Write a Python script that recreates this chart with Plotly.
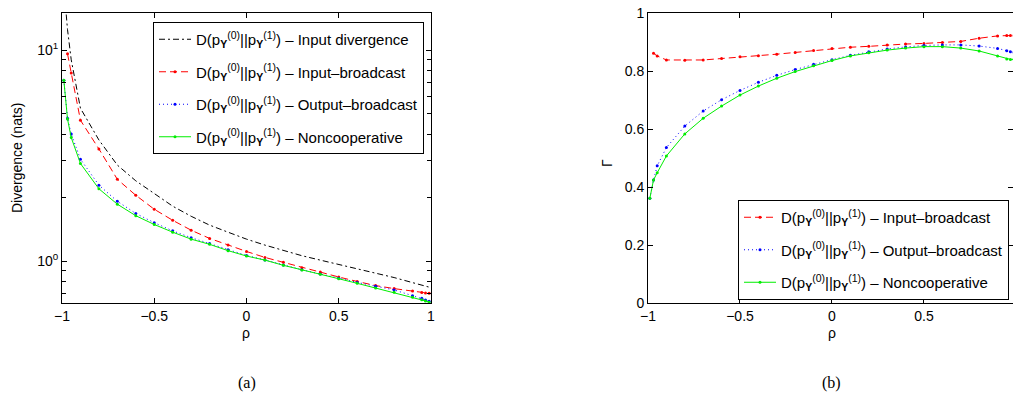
import plotly.graph_objects as go

# ---------------- data ----------------
rho = [-0.99, -0.97, -0.95, -0.9, -0.8, -0.7, -0.6, -0.5, -0.4, -0.3, -0.2, -0.1,
       0.0, 0.1, 0.2, 0.3, 0.4, 0.5, 0.6, 0.7, 0.8, 0.9, 0.95, 0.97, 0.99]

# (a) divergence (nats)
div_input = [20.0, 12.5, 9.0, 5.3, 3.75, 2.85, 2.40, 2.08, 1.82, 1.63, 1.48, 1.37,
             1.27, 1.19, 1.12, 1.06, 1.01, 0.965, 0.92, 0.875, 0.835, 0.79, 0.77, 0.76, 0.752]
div_inbc = [None, 9.6, 7.8, 4.65, 3.4, 2.44, 2.05, 1.76, 1.56, 1.40, 1.28, 1.19,
            1.11, 1.04, 0.986, 0.93, 0.887, 0.84, 0.80, 0.765, 0.74, 0.72, 0.71, 0.706, 0.703]
div_outbc = [7.2, 4.75, 4.0, 3.04, 2.29, 1.92, 1.68, 1.52, 1.39, 1.29, 1.21, 1.13,
             1.062, 1.012, 0.957, 0.909, 0.868, 0.828, 0.792, 0.76, 0.729, 0.685, 0.666, 0.653, 0.645]
div_noncoop = [7.2, 4.71, 3.85, 2.90, 2.20, 1.86, 1.64, 1.49, 1.37, 1.27, 1.20, 1.12,
               1.056, 1.01, 0.954, 0.906, 0.865, 0.824, 0.784, 0.745, 0.711, 0.673, 0.655, 0.647, 0.638]

# (b) Gamma
gam_inbc = [None, 0.861, 0.852, 0.838, 0.837, 0.838, 0.843, 0.849, 0.853, 0.858, 0.864, 0.871,
            0.878, 0.882, 0.885, 0.890, 0.893, 0.895, 0.898, 0.902, 0.913, 0.921, 0.922, 0.922, 0.922]
gam_outbc = [0.361, 0.424, 0.473, 0.536, 0.610, 0.662, 0.701, 0.733, 0.761, 0.785, 0.805, 0.823,
             0.839, 0.854, 0.866, 0.876, 0.883, 0.888, 0.890, 0.890, 0.886, 0.878, 0.870, 0.866, 0.864]
gam_noncoop = [0.361, 0.424, 0.449, 0.507, 0.583, 0.637, 0.679, 0.717, 0.748, 0.775, 0.798, 0.818,
               0.836, 0.852, 0.863, 0.872, 0.879, 0.884, 0.884, 0.879, 0.869, 0.852, 0.841, 0.840, 0.840]

x_ticks = [-1, -0.5, 0, 0.5, 1]
x_ticks_b = [-1, -0.5, 0, 0.5]
y_ticks_b = [0, 0.2, 0.4, 0.6, 0.8, 1]

prefix = "D(p<sub><b>Y</b></sub><sup>(0)</sup>||p<sub><b>Y</b></sub><sup>(1)</sup>) – "
names = ["Input divergence", "Input–broadcast", "Output–broadcast", "Noncooperative"]

FONT = "Liberation Sans, Arial, sans-serif"
W, H = 1013, 404

fig = go.Figure()

def add(x, y, name, color, dash, marker, xa, ya, legend, group):
    fig.add_trace(go.Scatter(
        x=x, y=y, name=prefix + name, mode="lines+markers" if marker else "lines",
        line=dict(color=color, width=1, dash=dash),
        marker=dict(size=3, color=color, symbol="circle", line=dict(width=0)),
        xaxis=xa, yaxis=ya, legend=legend, legendgroup=group, connectgaps=False))

add(rho, div_input, names[0], "#000000", "6px,3px,2px,3px", False, "x", "y", "legend", "a0")
add(rho, div_inbc, names[1], "#ff0000", "7px,4px", True, "x", "y", "legend", "a1")
add(rho, div_outbc, names[2], "#0000ff", "1px,3px", True, "x", "y", "legend", "a2")
add(rho, div_noncoop, names[3], "#00ee00", "solid", True, "x", "y", "legend", "a3")

add(rho, gam_inbc, names[1], "#ff0000", "7px,4px", True, "x2", "y2", "legend2", "b1")
add(rho, gam_outbc, names[2], "#0000ff", "1px,3px", True, "x2", "y2", "legend2", "b2")
add(rho, gam_noncoop, names[3], "#00ee00", "solid", True, "x2", "y2", "legend2", "b3")

top = 1 - 13 / H
bot = 1 - 303 / H

axis_common = dict(showline=True, linecolor="black", linewidth=1, mirror="ticks",
                   ticks="inside", ticklen=5, tickcolor="black", showgrid=False,
                   zeroline=False, tickfont=dict(family=FONT, size=14, color="black"))

legend_common = dict(xanchor="left", yanchor="top", bgcolor="white", bordercolor="black",
                     borderwidth=1, font=dict(family=FONT, size=15, color="black"),
                     itemwidth=32, tracegroupgap=10)

fig.update_layout(
    width=W, height=H,
    margin=dict(l=0, r=0, t=0, b=0, autoexpand=False),
    paper_bgcolor="white", plot_bgcolor="white",
    font=dict(family=FONT, size=14, color="black"),
    xaxis=dict(domain=[62 / W, 431 / W], range=[-1, 1], tickvals=x_ticks,
               anchor="y", **axis_common),
    yaxis=dict(domain=[bot, top], type="log", range=[-0.199, 1.176],
               tickvals=[1, 10], ticktext=["10<sup>0</sup>", "10<sup>1</sup>"],
               minor=dict(tickvals=[0.7, 0.8, 0.9, 2, 3, 4, 5, 6, 7, 8, 9],
                          ticks="inside", ticklen=4, tickcolor="black"),
               anchor="x", **axis_common),
    xaxis2=dict(domain=[648 / W, 1.0], range=[-1, 0.984], tickvals=x_ticks_b,
                anchor="y2", **axis_common),
    yaxis2=dict(domain=[bot, top], range=[0, 1], tickvals=y_ticks_b,
                anchor="x2", **axis_common),
    legend=dict(x=153 / W, y=1 - 22 / H, **legend_common),
    legend2=dict(x=738 / W, y=1 - 200 / H, **legend_common),
)

def ann(text, x, y, angle=0, size=14, family=FONT):
    fig.add_annotation(text=text, x=x / W, y=1 - y / H, xref="paper", yref="paper",
                       showarrow=False, textangle=angle, xanchor="center", yanchor="middle",
                       font=dict(family=family, size=size, color="black"))

ann("Divergence (nats)", 17, 158, -90)
ann("ρ", 246, 333)
ann("Γ", 607, 163, -90)
ann("ρ", 832, 333)
ann("(a)", 247, 383, size=16, family="Liberation Serif, Times New Roman, serif")
ann("(b)", 831, 383, size=16, family="Liberation Serif, Times New Roman, serif")

fig.write_html("out.html", config={"displayModeBar": False},
               post_script="document.body.style.margin='0';document.body.style.overflow='hidden';")
